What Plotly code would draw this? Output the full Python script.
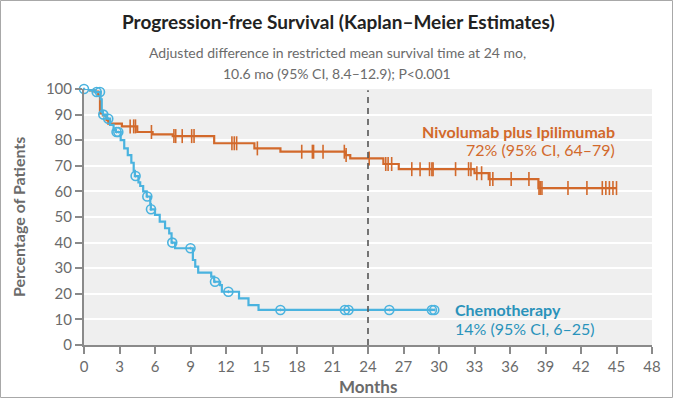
import numpy as np
import plotly.graph_objects as go

# ---------------- data ----------------
nivo_times = [0, 0.5, 0.9, 1.2, 1.35, 1.6, 1.9, 2.05, 3.2, 4.5, 5.8, 7.5, 11.0, 14.4, 16.6,
              22.1, 22.5, 25.3, 26.6, 33.0, 34.2, 38.4, 45.0]
nivo_surv = [100, 99.5, 99, 97.5, 90.5, 89.7, 87.8, 86.5, 85.4, 83.2, 82.3, 81.6, 78.8, 76.8, 75.5,
             74.2, 72.9, 70.7, 68.7, 67.1, 64.8, 61.3, 61.3]
nivo_censor = [3.9, 4.2, 4.35, 5.7, 7.6, 7.75, 8.3, 9.1, 9.3, 12.5, 12.7, 12.9, 14.65, 18.4, 19.3,
               19.4, 20.2, 22.0, 22.15, 24.1, 25.5, 25.7, 26.0, 27.7, 28.4, 29.2, 29.4, 29.5, 31.4,
               32.5, 32.7, 33.2, 33.6, 34.3, 34.55, 36.1, 37.6, 38.45, 38.55, 38.7, 40.9, 42.5,
               43.8, 44.1, 44.4, 44.7, 45.0]

chemo_times = [0, 0.5, 0.9, 1.4, 1.5, 1.6, 1.9, 2.2, 2.5, 2.7, 3.1, 3.4, 3.7, 4.0, 4.2, 4.3, 4.6,
               4.75, 5.0, 5.3, 5.6, 5.65, 6.0, 6.4, 6.85, 7.2, 7.4, 7.7, 9.2, 9.4, 9.65, 10.75,
               11.0, 11.5, 11.65, 13.1, 13.9, 14.75, 29.6]
chemo_surv = [100, 99.5, 98.8, 96, 91, 90, 88.4, 86, 84, 83.2, 80, 76.8, 74.2, 71.2, 68, 66, 63.5,
              62.1, 60, 58, 55, 53, 50.8, 48.2, 45.6, 43.6, 40, 37.8, 33.2, 30.6, 28.3, 26.7,
              24.7, 23.4, 20.8, 18.2, 15.6, 13.7, 13.7]
chemo_censor = [0, 1.07, 1.35, 1.63, 2.05, 2.75, 2.9, 4.36, 5.35, 5.66, 7.46, 9.0, 11.07, 12.2,
                16.6, 22.05, 22.35, 25.8, 29.4, 29.6]

x_ticks = list(range(0, 49, 3))
y_ticks = list(range(0, 101, 10))

ORANGE = "#d2692b"
BLUE = "#4ab3df"
BLUE_TXT = "#2a93bb"
GRAY = "#6b6b6b"
FONT = "Lato"


def step_value(times, surv, t):
    idx = np.searchsorted(np.array(times), np.array(t), side="right") - 1
    return np.array(surv)[idx]


fig = go.Figure()

fig.add_trace(go.Scatter(x=nivo_times, y=nivo_surv, mode="lines", line_shape="hv",
                         line=dict(color=ORANGE, width=2.2), cliponaxis=False,
                         hoverinfo="skip", showlegend=False))
fig.add_trace(go.Scatter(x=nivo_censor, y=step_value(nivo_times, nivo_surv, nivo_censor),
                         mode="markers", cliponaxis=False,
                         marker=dict(symbol="line-ns", size=10,
                                     line=dict(color=ORANGE, width=1.6)),
                         showlegend=False))
fig.add_trace(go.Scatter(x=chemo_times, y=chemo_surv, mode="lines", line_shape="hv",
                         line=dict(color=BLUE, width=2.2), cliponaxis=False,
                         hoverinfo="skip", showlegend=False))
fig.add_trace(go.Scatter(x=chemo_censor, y=step_value(chemo_times, chemo_surv, chemo_censor),
                         mode="markers", cliponaxis=False,
                         marker=dict(symbol="circle-open-dot", size=9,
                                     line=dict(color=BLUE, width=1.6), color=BLUE),
                         showlegend=False))

# dashed line at 24 months
fig.add_shape(type="line", xref="x", yref="y", x0=24, x1=24, y0=0, y1=99.5,
              line=dict(color="#555555", width=1.6, dash="6px,5px"), layer="above")

# figure border
W, H = 673, 398
ml, mr, mt, mb = 84, 21, 89, 53
pw, ph = W - ml - mr, H - mt - mb
fig.add_shape(type="rect", xref="paper", yref="paper",
              x0=(-ml + 0.5) / pw, x1=1 + (mr - 0.5) / pw,
              y0=(-mb + 0.5) / ph, y1=1 + (mt - 0.5) / ph,
              line=dict(color="#a8a8a8", width=1), layer="below")


def py(p):
    return (H - mb - p) / ph


def px(p):
    return (p - ml) / pw


ann = [
    dict(text="<b>Progression-free Survival (Kaplan–Meier Estimates)</b>", x=px(338), y=py(21),
         font=dict(size=19, color="#222222")),
    dict(text="Adjusted difference in restricted mean survival time at 24 mo,", x=px(337), y=py(52),
         font=dict(size=14, color=GRAY)),
    dict(text="10.6 mo (95% CI, 8.4–12.9); P<0.001", x=px(337), y=py(73),
         font=dict(size=14, color=GRAY)),
    dict(text="<b>Percentage of Patients</b>", x=px(18), y=0.5, textangle=-90,
         font=dict(size=16, color=GRAY)),
    dict(text="<b>Months</b>", x=0.5, y=py(386), font=dict(size=17, color=GRAY)),
]
for a in ann:
    fig.add_annotation(xref="paper", yref="paper", showarrow=False, xanchor="center",
                       yanchor="middle", font_family=FONT, **{k: v for k, v in a.items()})

fig.add_annotation(xref="x", yref="y", x=45, y=83.3, text="<b>Nivolumab plus Ipilimumab</b>",
                   showarrow=False, xanchor="right", yanchor="middle",
                   font=dict(family=FONT, size=16, color=ORANGE))
fig.add_annotation(xref="x", yref="y", x=45, y=76.2, text="72% (95% CI, 64–79)",
                   showarrow=False, xanchor="right", yanchor="middle",
                   font=dict(family=FONT, size=16, color=ORANGE))
fig.add_annotation(xref="x", yref="y", x=31.2, y=13.7, text="<b>Chemotherapy</b>",
                   showarrow=False, xanchor="left", yanchor="middle",
                   font=dict(family=FONT, size=16, color=BLUE_TXT))
fig.add_annotation(xref="x", yref="y", x=31.2, y=6.3, text="14% (95% CI, 6–25)",
                   showarrow=False, xanchor="left", yanchor="middle",
                   font=dict(family=FONT, size=16, color=BLUE_TXT))

fig.update_layout(
    width=W, height=H,
    margin=dict(l=ml, r=mr, t=mt, b=mb, pad=0),
    paper_bgcolor="white", plot_bgcolor="#efefef",
    font=dict(family=FONT, color=GRAY, size=15),
    xaxis=dict(range=[0, 48], tickvals=x_ticks, ticktext=[str(v) for v in x_ticks],
               showgrid=False, zeroline=False, showline=True, linecolor="#8a8a8a",
               linewidth=2, ticks="outside", ticklen=7, tickwidth=1.5, tickcolor="#8a8a8a",
               tickfont=dict(size=15, color=GRAY, family=FONT)),
    yaxis=dict(range=[0, 100], tickvals=y_ticks, ticktext=[str(v) for v in y_ticks],
               showgrid=True, gridcolor="white", gridwidth=2, zeroline=False, showline=True,
               linecolor="#8a8a8a", linewidth=2, ticks="outside", ticklen=7, tickwidth=1.5,
               tickcolor="#8a8a8a", tickfont=dict(size=15, color=GRAY, family=FONT)),
)

fig.write_html("out.html", config={"displayModeBar": False},
               post_script="document.body.style.margin='0';document.body.style.overflow='hidden';")
